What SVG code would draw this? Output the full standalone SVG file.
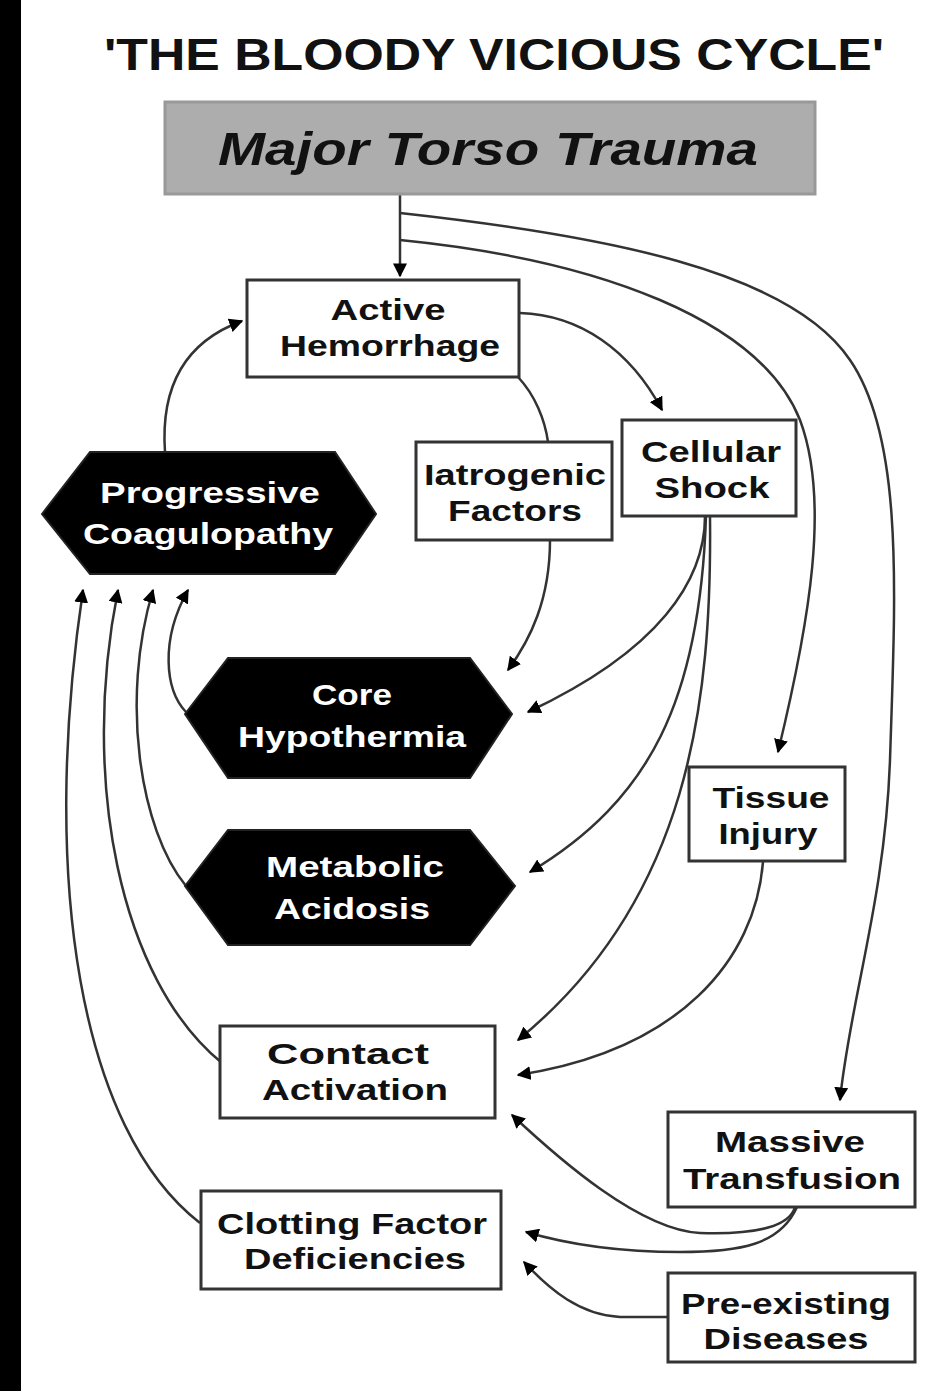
<svg xmlns="http://www.w3.org/2000/svg" width="943" height="1391" viewBox="0 0 943 1391">
<defs>
<style>
.box{fill:#fff;stroke:#333;stroke-width:3}
.hex{fill:#000;stroke:#222;stroke-width:2}
.t{font-family:"Liberation Sans",Arial,sans-serif;font-weight:bold;font-size:30px;text-anchor:middle;fill:#111}
.w{fill:#fff}
.c{fill:none;stroke:#333;stroke-width:2.5}
</style>
<marker id="ah" viewBox="0 0 10 10" refX="9" refY="5" markerWidth="14" markerHeight="14" markerUnits="userSpaceOnUse" orient="auto">
<path d="M0,0 L10,5 L0,10 z" fill="#000"/>
</marker>
</defs>
<rect x="0" y="0" width="943" height="1391" fill="#fff"/>
<rect x="0" y="0" width="21" height="1391" fill="#000"/>
<text x="494" y="70" style="font-family:'Liberation Sans',Arial,sans-serif;font-weight:bold;font-size:44px;text-anchor:middle;fill:#111" textLength="780" lengthAdjust="spacingAndGlyphs">'THE BLOODY VICIOUS CYCLE'</text>

<g id="connectors">
<path class="c" d="M400,195 L400,276" marker-end="url(#ah)"/>
<path class="c" d="M400,213 C600,235 790,270 850,360 C905,440 895,600 890,760 C885,900 850,1000 840,1100" marker-end="url(#ah)"/>
<path class="c" d="M400,240 C600,260 760,320 800,420 C830,500 810,620 778,752" marker-end="url(#ah)"/>
<path class="c" d="M520,313 C580,315 630,350 662,410" marker-end="url(#ah)"/>
<path class="c" d="M518,377 C535,395 545,420 548,442"/>
<path class="c" d="M550,540 C550,600 530,640 508,670" marker-end="url(#ah)"/>
<path class="c" d="M705,516 C705,580 660,650 528,712" marker-end="url(#ah)"/>
<path class="c" d="M706,516 C700,700 650,800 530,872" marker-end="url(#ah)"/>
<path class="c" d="M710,516 C712,700 690,900 518,1040" marker-end="url(#ah)"/>
<path class="c" d="M763,862 C755,960 680,1050 518,1075" marker-end="url(#ah)"/>
<path class="c" d="M795,1207 C790,1225 760,1235 700,1233 C640,1230 560,1160 512,1115" marker-end="url(#ah)"/>
<path class="c" d="M797,1207 C780,1245 740,1252 680,1252 C620,1252 570,1245 526,1232" marker-end="url(#ah)"/>
<path class="c" d="M668,1317 L620,1317 C580,1315 550,1290 524,1262" marker-end="url(#ah)"/>
<path class="c" d="M165,452 C160,380 190,340 242,321" marker-end="url(#ah)"/>
<path class="c" d="M186,712 C165,690 160,640 188,590" marker-end="url(#ah)"/>
<path class="c" d="M186,886 C140,830 120,700 153,590" marker-end="url(#ah)"/>
<path class="c" d="M222,1063 C120,980 80,780 118,590" marker-end="url(#ah)"/>
<path class="c" d="M200,1223 C80,1130 40,880 83,590" marker-end="url(#ah)"/>
</g>

<g id="major-torso-trauma">
<rect x="165" y="102" width="650" height="92" fill="#adadad" stroke="#999" stroke-width="3"/>
<text x="488" y="165" style="font-family:'Liberation Sans',Arial,sans-serif;font-weight:bold;font-style:italic;font-size:46px;text-anchor:middle;fill:#111" textLength="540" lengthAdjust="spacingAndGlyphs">Major Torso Trauma</text>
</g>
<g id="active-hemorrhage">
<rect class="box" x="247" y="280" width="272" height="97"/>
<text class="t" x="388" y="320" textLength="115" lengthAdjust="spacingAndGlyphs">Active</text>
<text class="t" x="390" y="356" textLength="220" lengthAdjust="spacingAndGlyphs">Hemorrhage</text>
</g>
<g id="iatrogenic-factors">
<rect class="box" x="416" y="442" width="196" height="98"/>
<text class="t" x="515" y="485" textLength="182" lengthAdjust="spacingAndGlyphs">Iatrogenic</text>
<text class="t" x="515" y="521" textLength="134" lengthAdjust="spacingAndGlyphs">Factors</text>
</g>
<g id="cellular-shock">
<rect class="box" x="622" y="420" width="174" height="96"/>
<text class="t" x="711" y="462" textLength="140" lengthAdjust="spacingAndGlyphs">Cellular</text>
<text class="t" x="712" y="498" textLength="115" lengthAdjust="spacingAndGlyphs">Shock</text>
</g>
<g id="progressive-coagulopathy">
<polygon class="hex" points="42,514 90,452 335,452 376,514 335,574 90,574"/>
<text class="t w" x="210" y="503" textLength="220" lengthAdjust="spacingAndGlyphs">Progressive</text>
<text class="t w" x="208" y="544" textLength="250" lengthAdjust="spacingAndGlyphs">Coagulopathy</text>
</g>
<g id="core-hypothermia">
<polygon class="hex" points="185,714 228,658 470,658 512,714 470,778 228,778"/>
<text class="t w" x="352" y="705" textLength="80" lengthAdjust="spacingAndGlyphs">Core</text>
<text class="t w" x="352" y="747" textLength="228" lengthAdjust="spacingAndGlyphs">Hypothermia</text>
</g>
<g id="metabolic-acidosis">
<polygon class="hex" points="185,886 228,830 470,830 515,886 470,945 228,945"/>
<text class="t w" x="355" y="877" textLength="178" lengthAdjust="spacingAndGlyphs">Metabolic</text>
<text class="t w" x="352" y="919" textLength="156" lengthAdjust="spacingAndGlyphs">Acidosis</text>
</g>
<g id="tissue-injury">
<rect class="box" x="689" y="767" width="156" height="94"/>
<text class="t" x="771" y="808" textLength="117" lengthAdjust="spacingAndGlyphs">Tissue</text>
<text class="t" x="768" y="844" textLength="99" lengthAdjust="spacingAndGlyphs">Injury</text>
</g>
<g id="contact-activation">
<rect class="box" x="220" y="1026" width="275" height="92"/>
<text class="t" x="348" y="1064" textLength="162" lengthAdjust="spacingAndGlyphs">Contact</text>
<text class="t" x="355" y="1100" textLength="186" lengthAdjust="spacingAndGlyphs">Activation</text>
</g>
<g id="massive-transfusion">
<rect class="box" x="668" y="1112" width="247" height="95"/>
<text class="t" x="790" y="1152" textLength="150" lengthAdjust="spacingAndGlyphs">Massive</text>
<text class="t" x="792" y="1189" textLength="218" lengthAdjust="spacingAndGlyphs">Transfusion</text>
</g>
<g id="clotting-factor-deficiencies">
<rect class="box" x="201" y="1191" width="300" height="98"/>
<text class="t" x="352" y="1234" textLength="270" lengthAdjust="spacingAndGlyphs">Clotting Factor</text>
<text class="t" x="355" y="1269" textLength="222" lengthAdjust="spacingAndGlyphs">Deficiencies</text>
</g>
<g id="pre-existing-diseases">
<rect class="box" x="668" y="1273" width="247" height="89"/>
<text class="t" x="786" y="1314" textLength="210" lengthAdjust="spacingAndGlyphs">Pre-existing</text>
<text class="t" x="786" y="1349" textLength="165" lengthAdjust="spacingAndGlyphs">Diseases</text>
</g>
</svg>
